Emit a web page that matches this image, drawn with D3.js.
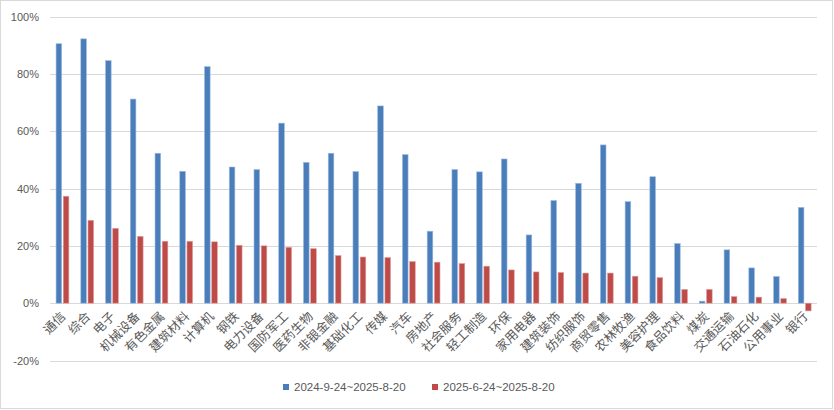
<!DOCTYPE html>
<html><head><meta charset="utf-8">
<script src="https://cdn.jsdelivr.net/npm/d3@7"></script>
<style>body{margin:0;background:#fff}svg{display:block}</style>
</head><body>
<svg id="c" width="834" height="410"></svg>
<script>
const categories = ["通信","综合","电子","机械设备","有色金属","建筑材料","计算机","钢铁","电力设备","国防军工","医药生物","非银金融","基础化工","传媒","汽车","房地产","社会服务","轻工制造","环保","家用电器","建筑装饰","纺织服饰","商贸零售","农林牧渔","美容护理","食品饮料","煤炭","交通运输","石油石化","公用事业","银行"];
const seriesNames = ["2024-9-24~2025-8-20","2025-6-24~2025-8-20"];
const longPeriod = [90.5,92.2,84.6,71.2,52.3,46.0,82.5,47.5,46.6,62.8,49.1,52.3,45.9,68.8,51.8,25.1,46.6,45.8,50.3,23.8,35.8,41.8,55.2,35.4,44.1,20.8,0.7,18.6,12.3,9.3,33.4];
const shortPeriod = [37.3,28.9,26.1,23.3,21.6,21.6,21.4,20.2,20.0,19.5,19.0,16.6,16.1,15.9,14.5,14.3,13.8,12.9,11.6,10.9,10.7,10.5,10.5,9.4,8.9,4.8,4.8,2.3,2.1,1.6,-2.7];
const yTicks = [-20,0,20,40,60,80,100];
const colors = ["#4A7EBB","#BE4B48"];
const strokes = ["#9DB9DD","#DDA09E"];

const svg = d3.select("#c");
const L = 50, R = 817, T = 16.5, B = 360.5;
svg.append("rect").attr("x",0.5).attr("y",0.5).attr("width",832).attr("height",408)
  .attr("fill","#fff").attr("stroke","#D9D9D9");

const x = d3.scaleBand().domain(categories).range([L,R]).padding(0);
const y = d3.scaleLinear().domain([-20,100]).range([B,T]);

const grid = svg.append("g");
grid.selectAll("line").data(yTicks).join("line")
  .attr("x1",L).attr("x2",R)
  .attr("y1",d=>Math.round(y(d))+0.5).attr("y2",d=>Math.round(y(d))+0.5)
  .attr("stroke","#D9D9D9").attr("stroke-width",1);

const yAxis = d3.axisLeft(y).tickValues(yTicks).tickSize(0).tickPadding(0).tickFormat(d=>d+"%");
const ya = svg.append("g").attr("transform",`translate(${L-11},0)`).call(yAxis);
ya.select(".domain").remove();
ya.selectAll("text").attr("font-family","Liberation Sans, Arial, sans-serif")
  .attr("font-size","11px").attr("fill","#595959");

const bw = 5.6;
const series = [longPeriod, shortPeriod];
series.forEach((vals,si)=>{
  svg.append("g").selectAll("rect").data(categories).join("rect")
    .attr("x",(d,i)=>x(d)+x.bandwidth()/2 + (si===0 ? -bw-0.7 : 0.9))
    .attr("width",bw)
    .attr("y",(d,i)=>y(Math.max(0,vals[i])))
    .attr("height",(d,i)=>Math.abs(y(vals[i])-y(0)))
    .attr("fill",colors[si]).attr("stroke",strokes[si]).attr("stroke-width",0.6);
});

const xl = svg.append("g");
xl.selectAll("text").data(categories).join("text")
  .attr("transform",d=>`translate(${x(d)+x.bandwidth()/2+1},${y(0)+11}) rotate(-45)`)
  .attr("text-anchor","end").attr("dy","0.35em")
  .attr("font-family","Noto Sans CJK SC, sans-serif").attr("font-size","12.5px")
  .attr("fill","#595959").text(d=>d);

const lg = svg.append("g");
const lx = [283, 432];
seriesNames.forEach((n,i)=>{
  lg.append("rect").attr("x",lx[i]).attr("y",384).attr("width",6).attr("height",6).attr("fill",colors[i]);
  lg.append("text").attr("x",lx[i]+11).attr("y",387).attr("dy","0.35em")
    .attr("font-family","Liberation Sans, Arial, sans-serif").attr("font-size","11.5px")
    .attr("fill","#595959").text(n);
});
</script>
</body></html>
